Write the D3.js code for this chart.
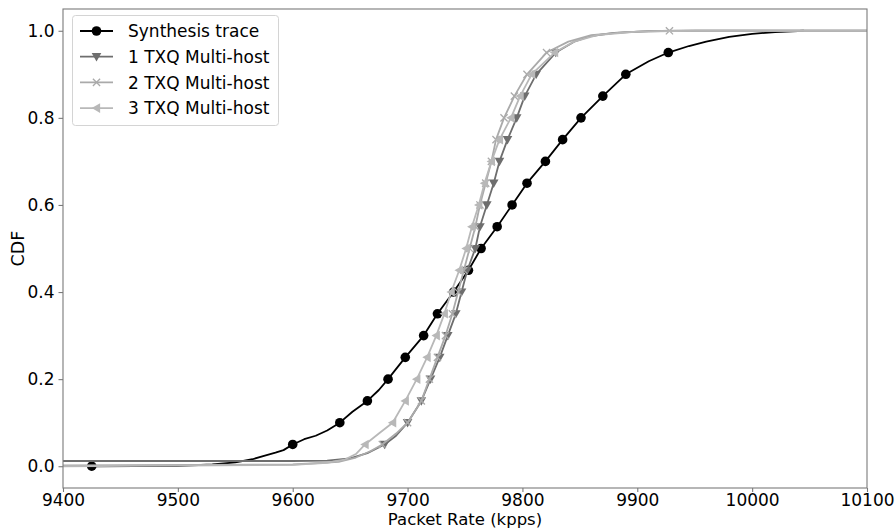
<!DOCTYPE html>
<html>
<head>
<meta charset="utf-8">
<script src="https://cdn.jsdelivr.net/npm/d3@7/dist/d3.min.js"></script>
<style>
  html, body { margin: 0; padding: 0; background: #fff; }
  svg { display: block; font-family: "DejaVu Sans", sans-serif; }
</style>
</head>
<body>
<svg id="chart" width="896" height="529"></svg>
<script>
// ---- data: [packet rate (kpps), CDF, marker flag] ----
const seriesNames = ["Synthesis trace", "1 TXQ Multi-host", "2 TXQ Multi-host", "3 TXQ Multi-host"];

const synthesis = [
  [9425,0,1],[9500,0.001],[9530,0.004],[9550,0.009],[9565,0.016],[9575,0.024],[9585,0.031],[9592,0.037],
  [9600,0.05,1],[9610,0.062],[9620,0.07],[9630,0.082],[9641,0.1,1],[9652,0.125],[9665,0.15,1],[9675,0.175],
  [9683,0.2,1],[9698,0.25,1],[9714,0.3,1],[9726,0.35,1],[9740,0.4,1],[9753,0.45,1],[9764,0.5,1],
  [9778,0.55,1],[9791,0.6,1],[9804,0.65,1],[9820,0.7,1],[9835,0.75,1],[9851,0.8,1],[9870,0.85,1],
  [9890,0.9,1],[9910,0.93],[9927,0.95,1],[9945,0.965],[9960,0.975],[9980,0.986],[10000,0.993],
  [10020,0.997],[10045,1.0]
];

const txq1 = [
  [9400,0.012],[9600,0.012],[9630,0.013],[9650,0.018],[9665,0.03],[9680,0.05,1],[9690,0.07],
  [9700,0.1,1],[9712,0.15,1],[9720,0.2,1],[9728,0.25,1],[9735,0.3,1],[9742,0.35,1],[9747,0.4,1],
  [9752,0.45,1],[9759,0.5,1],[9763,0.55,1],[9769,0.6,1],[9775,0.65,1],[9780,0.7,1],[9787,0.75,1],
  [9795,0.8,1],[9802,0.85,1],[9812,0.9,1],[9829,0.95,1],[9845,0.975],[9860,0.988],[9880,0.995],
  [9910,0.999],[9950,1.0],[10100,1.0]
];

const txq2 = [
  [9400,0.002],[9600,0.004],[9640,0.01],[9655,0.02],[9668,0.035],[9678,0.05,1],[9690,0.075],
  [9700,0.1,1],[9712,0.15,1],[9719,0.2,1],[9726,0.25,1],[9733,0.3,1],[9739,0.35,1],[9744,0.4,1],
  [9749,0.45,1],[9754,0.5,1],[9759,0.55,1],[9763,0.6,1],[9768,0.65,1],[9773,0.7,1],[9777,0.75,1],
  [9784,0.8,1],[9793,0.85,1],[9804,0.9,1],[9821,0.95,1],[9840,0.975],[9860,0.99],[9890,0.997],
  [9928,1.0,1],[10100,1.0]
];

const txq3 = [
  [9400,0.0],[9600,0.003],[9630,0.008],[9645,0.015],[9655,0.028],[9663,0.05,1],[9675,0.075],
  [9687,0.1,1],[9698,0.15,1],[9708,0.2,1],[9717,0.25,1],[9725,0.3,1],[9732,0.35,1],[9738,0.4,1],
  [9745,0.45,1],[9751,0.5,1],[9756,0.55,1],[9762,0.6,1],[9767,0.65,1],[9773,0.7,1],[9780,0.75,1],
  [9790,0.8,1],[9798,0.85,1],[9808,0.9,1],[9828,0.95,1],[9845,0.975],[9865,0.99],[9900,0.998],
  [9950,1.0],[10100,1.0]
];

const xTicks = [9400, 9500, 9600, 9700, 9800, 9900, 10000, 10100];
const yTicks = [0.0, 0.2, 0.4, 0.6, 0.8, 1.0];

// ---- styles ----
const styles = [
  { data: synthesis, color: "#000000", marker: "circle" },
  { data: txq1, color: "#6e6e6e", marker: "tridown" },
  { data: txq2, color: "#aaaaaa", marker: "cross" },
  { data: txq3, color: "#b8b8b8", marker: "trileft" }
];

const svg = d3.select("#chart");
const m = { left: 63, right: 867, top: 9, bottom: 488 };

const x = d3.scaleLinear().domain([9400, 10100]).range([m.left, m.right]);
const y = d3.scaleLinear().domain([-0.05, 1.05]).range([m.bottom, m.top]);

svg.append("defs").append("clipPath").attr("id", "clip")
  .append("rect").attr("x", m.left).attr("y", m.top)
  .attr("width", m.right - m.left).attr("height", m.bottom - m.top);

function drawMarker(g, type, color, cx, cy, s) {
  if (type === "circle") {
    g.append("circle").attr("cx", cx).attr("cy", cy).attr("r", s * 0.6).attr("fill", color);
  } else if (type === "tridown") {
    const h = s * 0.6;
    g.append("path").attr("d", `M${cx - h},${cy - h * 0.75}L${cx + h},${cy - h * 0.75}L${cx},${cy + h}Z`).attr("fill", color);
  } else if (type === "trileft") {
    const h = s * 0.6;
    g.append("path").attr("d", `M${cx - h},${cy}L${cx + h * 0.75},${cy - h}L${cx + h * 0.75},${cy + h}Z`).attr("fill", color);
  } else if (type === "cross") {
    const h = s * 0.45;
    g.append("path").attr("d", `M${cx - h},${cy - h}L${cx + h},${cy + h}M${cx - h},${cy + h}L${cx + h},${cy - h}`)
      .attr("stroke", color).attr("stroke-width", 1.3).attr("fill", "none");
  }
}

const plot = svg.append("g").attr("clip-path", "url(#clip)");
const line = d3.line().x(d => x(d[0])).y(d => y(d[1]));

// plotting order as in the legend
styles.forEach(st => {
  plot.append("path").datum(st.data).attr("d", line)
    .attr("fill", "none").attr("stroke", st.color).attr("stroke-width", 1.8)
    .attr("stroke-linejoin", "round");
  const mg = plot.append("g");
  st.data.filter(d => d[2]).forEach(d => drawMarker(mg, st.marker, st.color, x(d[0]), y(d[1]), 8));
});

// frame
svg.append("rect").attr("x", m.left).attr("y", m.top)
  .attr("width", m.right - m.left).attr("height", m.bottom - m.top)
  .attr("fill", "none").attr("stroke", "#7a7a7a").attr("stroke-width", 1.1);

// axes
const xAxis = d3.axisBottom(x).tickValues(xTicks).tickSize(4).tickPadding(1.5).tickFormat(d3.format("d"));
const gx = svg.append("g").attr("transform", `translate(0,${m.bottom})`).call(xAxis);
const yAxis = d3.axisLeft(y).tickValues(yTicks).tickSize(4.5).tickPadding(4).tickFormat(d3.format(".1f"));
const gy = svg.append("g").attr("transform", `translate(${m.left},0)`).call(yAxis);
[gx, gy].forEach(g => {
  g.select(".domain").remove();
  g.selectAll(".tick line").attr("stroke", "#7a7a7a").attr("stroke-width", 1.1);
  g.selectAll(".tick text").attr("fill", "#000").style("font-size", "17px").style("font-family", "DejaVu Sans");
});

svg.append("text").attr("x", (m.left + m.right) / 2).attr("y", 525)
  .attr("text-anchor", "middle").style("font-size", "16.5px").text("Packet Rate (kpps)");
svg.append("text").attr("transform", `translate(24,${(m.top + m.bottom) / 2}) rotate(-90)`)
  .attr("text-anchor", "middle").style("font-size", "17.5px").text("CDF");

// legend
const lg = svg.append("g");
lg.append("rect").attr("x", 72.5).attr("y", 15.5).attr("width", 206).attr("height", 110)
  .attr("rx", 3).attr("fill", "#fff").attr("fill-opacity", 0.85).attr("stroke", "#d4d4d4");
styles.forEach((st, i) => {
  const yy = 31 + i * 25.7;
  lg.append("line").attr("x1", 80).attr("x2", 113).attr("y1", yy).attr("y2", yy)
    .attr("stroke", st.color).attr("stroke-width", 1.8);
  drawMarker(lg, st.marker, st.color, 96.5, yy, 8);
  lg.append("text").attr("x", 128).attr("y", yy).attr("dy", "0.36em")
    .style("font-size", "17px").text(seriesNames[i]);
});
</script>
</body>
</html>
